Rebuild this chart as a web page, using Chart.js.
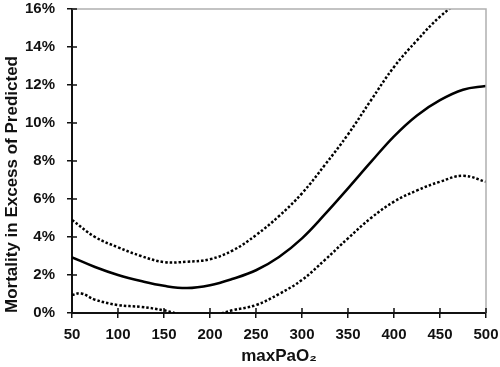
<!DOCTYPE html>
<html>
<head>
<meta charset="utf-8">
<script src="https://cdn.jsdelivr.net/npm/chart.js@4"></script>
<style>
  html, body { margin: 0; padding: 0; background: #fff; }
  #wrap { width: 500px; height: 367px; }
</style>
</head>
<body>
<div id="wrap"><canvas id="mortChart"></canvas></div>
<script>
// maxPaO2 values (x) and mortality in excess of predicted (%)
const paO2 = [50, 75, 100, 125, 150, 175, 200, 225, 250, 275, 300, 325, 350, 375, 400, 425, 450, 475, 500];
const estimate = [2.93, 2.42, 2.0, 1.68, 1.43, 1.31, 1.46, 1.8, 2.25, 2.95, 3.93, 5.2, 6.56, 7.95, 9.3, 10.4, 11.2, 11.75, 11.95];
const upperCI = [4.9, 4.0, 3.46, 3.0, 2.68, 2.7, 2.83, 3.3, 4.1, 5.1, 6.3, 7.8, 9.4, 11.2, 12.95, 14.35, 15.6, 16.5, 17.2];
const lowerX = [50, 60, 75, 100, 125, 150, 175, 200, 225, 250, 275, 300, 325, 350, 375, 400, 425, 450, 475, 500];
const lowerCI = [0.95, 1.03, 0.7, 0.42, 0.32, 0.14, -0.15, -0.15, 0.15, 0.42, 1.0, 1.74, 2.8, 3.93, 5.0, 5.86, 6.45, 6.91, 7.22, 6.91];
const xTicks = [50, 100, 150, 200, 250, 300, 350, 400, 450, 500];

const toPoints = (xs, ys) => xs.map((x, i) => ({ x: x, y: ys[i] }));

// ticks that cross the axis + grey frame on top/right
const frameAndTicks = {
  id: "frameAndTicks",
  afterDraw(chart) {
    const { ctx, chartArea: a, scales } = chart;
    ctx.save();
    ctx.strokeStyle = "#b0b0b0";
    ctx.lineWidth = 1.5;
    ctx.beginPath();
    ctx.moveTo(a.left, a.top);
    ctx.lineTo(a.right, a.top);
    ctx.lineTo(a.right, a.bottom);
    ctx.stroke();

    ctx.strokeStyle = "#111";
    ctx.lineWidth = 1.5;
    ctx.beginPath();
    xTicks.forEach((v) => {
      const px = scales.x.getPixelForValue(v);
      ctx.moveTo(px, a.bottom - 5);
      ctx.lineTo(px, a.bottom);
    });
    for (let v = 2; v <= 16; v += 2) {
      const py = scales.y.getPixelForValue(v);
      ctx.moveTo(a.left, py);
      ctx.lineTo(a.left + 5, py);
    }
    ctx.stroke();
    ctx.restore();
  }
};

function createChart() {
  const lineBase = {
    borderColor: "#000",
    pointRadius: 0,
    fill: false,
    tension: 0.4,
  };
  const boldFont = (size) => ({ family: "Liberation Sans", weight: "bold", size: size });

  const config = {
    type: "line",
    data: {
      datasets: [
        { ...lineBase, label: "Upper", data: toPoints(paO2, upperCI), borderWidth: 2.5, borderDash: [2.5, 2] },
        { ...lineBase, label: "Estimate", data: toPoints(paO2, estimate), borderWidth: 2.5 },
        { ...lineBase, label: "Lower", data: toPoints(lowerX, lowerCI), borderWidth: 2.5, borderDash: [2.5, 2] },
      ],
    },
    options: {
      animation: false,
      responsive: true,
      maintainAspectRatio: false,
      layout: { padding: { top: 0, right: 0, left: 2, bottom: 0 } },
      plugins: { legend: false, tooltip: { enabled: false } },
      scales: {
        x: {
          type: "linear",
          min: 50,
          max: 500,
          afterBuildTicks: (axis) => { axis.ticks = xTicks.map((v) => ({ value: v })); },
          afterFit: (axis) => {
            axis.height = 54;
            axis.paddingLeft = 0;
            axis.paddingRight = 14;
          },
          grid: { drawOnChartArea: false, color: "#111", lineWidth: 1.5, tickLength: 5 },
          border: { color: "#111", width: 2 },
          ticks: { color: "#111", font: boldFont(15), padding: 8, maxRotation: 0 },
          title: { display: true, text: "maxPaO₂", color: "#111", font: boldFont(17), padding: { top: 2, bottom: 0 } },
        },
        y: {
          min: 0,
          max: 16,
          afterFit: (axis) => {
            axis.width = 70;
            axis.paddingTop = 9;
            axis.paddingBottom = 0;
          },
          grid: { drawOnChartArea: false, color: "#111", lineWidth: 1.5, tickLength: 5 },
          border: { color: "#111", width: 2 },
          ticks: { stepSize: 2, color: "#111", font: boldFont(15), padding: 12, callback: (v) => v + "%" },
          title: { display: true, align: "start", text: "Mortality in Excess of Predicted", color: "#111", font: boldFont(17), padding: { top: 0, bottom: 4 } },
        },
      },
    },
    plugins: [frameAndTicks],
  };

  new Chart(document.getElementById("mortChart"), config);
}

document.addEventListener("DOMContentLoaded", () => {
  createChart();
});
</script>
</body>
</html>
